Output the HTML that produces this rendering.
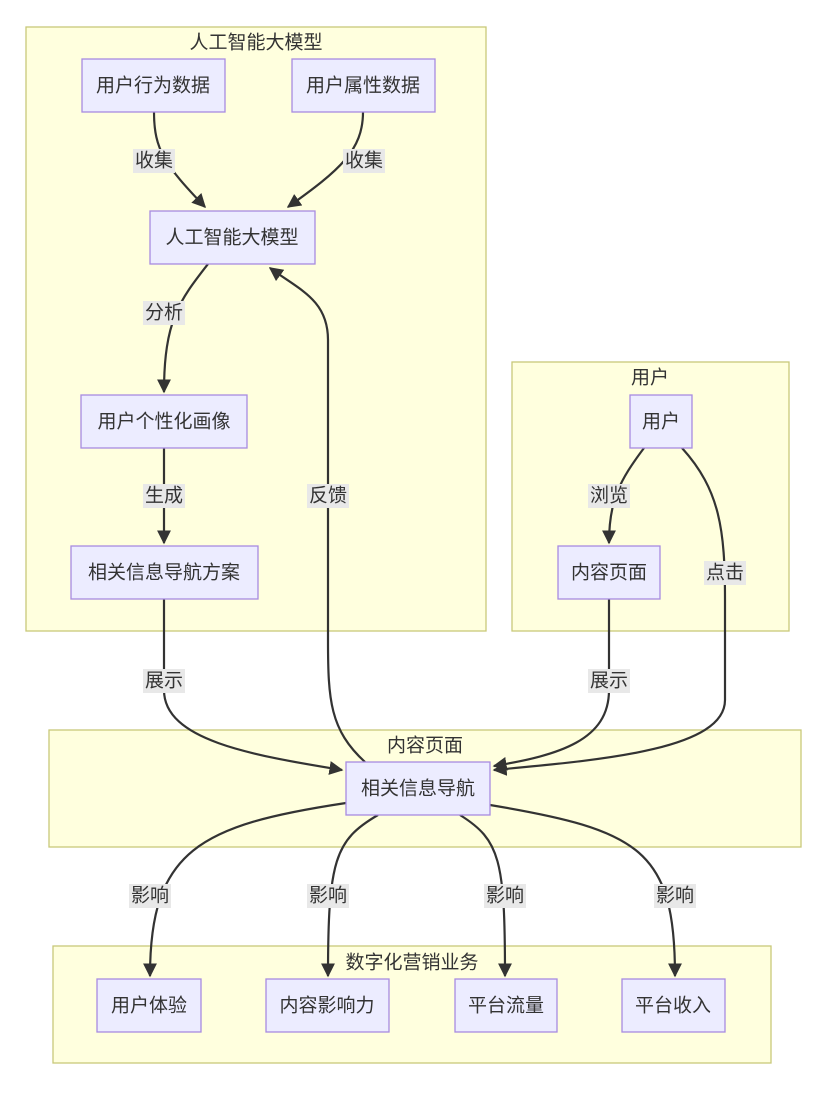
<!DOCTYPE html>
<html><head><meta charset="utf-8"><style>
html,body{margin:0;padding:0;background:#fff;}
svg{display:block;font-family:"Liberation Sans","Noto Sans CJK SC",sans-serif;}
.cl{fill:#ffffde;stroke:#c8c87a;stroke-width:1.3;}
.nd{fill:#ececff;stroke:#a78be0;stroke-width:1.3;}
.t{font-size:19px;fill:#333;text-anchor:middle;dominant-baseline:central;}
.e{fill:none;stroke:#333;stroke-width:2.2;}
.lb{fill:#e8e8e8;}
</style></head><body>
<svg width="829" height="1093" viewBox="0 0 829 1093">
<defs>
<marker id="b" viewBox="0 0 10 10" refX="9" refY="5" markerWidth="14" markerHeight="14" orient="auto" markerUnits="userSpaceOnUse"><path d="M0,0L10,5L0,10z" fill="#333"/></marker></defs>
<rect class="cl" x="26" y="27" width="460" height="604"/>
<text class="t" x="256" y="43">人工智能大模型</text>
<rect class="cl" x="512" y="362" width="277" height="269"/>
<text class="t" x="650" y="378">用户</text>
<rect class="cl" x="49" y="730" width="752" height="117"/>
<text class="t" x="425" y="746">内容页面</text>
<rect class="cl" x="53" y="946" width="718" height="117"/>
<text class="t" x="412" y="963">数字化营销业务</text>

<g marker-end="url(#b)">
<path class="e" d="M154,112 C154,150 165,165 205,207"/>
<path class="e" d="M363,112 C363,150 340,170 288,207"/>
<path class="e" d="M208,264 C180,300 164,320 164,392"/>
<path class="e" d="M164,448 L164,543"/>
<path class="e" d="M164,599 L164,690 C164,740 250,755 342,770"/>
<path class="e" d="M365,762 C330,730 328,700 328,640 L328,340 C328,300 300,290 270,268"/>
<path class="e" d="M644,448 C620,480 609,500 609,543"/>
<path class="e" d="M682,448 C720,490 725,530 725,600 L725,700 C725,750 600,760 494,770"/>
<path class="e" d="M609,599 L609,690 C609,740 560,755 494,766"/>
<path class="e" d="M346,803 C200,825 150,850 150,976"/>
<path class="e" d="M378,815 C335,840 328,860 328,976"/>
<path class="e" d="M460,815 C500,840 505,860 505,976"/>
<path class="e" d="M490,805 C640,830 675,850 675,976"/>
</g>

<g>
<rect class="lb" x="133" y="149" width="42" height="24"/><text class="t" x="154" y="161">收集</text>
<rect class="lb" x="343" y="149" width="42" height="24"/><text class="t" x="364" y="161">收集</text>
<rect class="lb" x="143" y="301" width="42" height="24"/><text class="t" x="164" y="313">分析</text>
<rect class="lb" x="143" y="484" width="42" height="24"/><text class="t" x="164" y="496">生成</text>
<rect class="lb" x="307" y="484" width="42" height="24"/><text class="t" x="328" y="496">反馈</text>
<rect class="lb" x="588" y="484" width="42" height="24"/><text class="t" x="609" y="496">浏览</text>
<rect class="lb" x="704" y="561" width="42" height="24"/><text class="t" x="725" y="573">点击</text>
<rect class="lb" x="143" y="669" width="42" height="24"/><text class="t" x="164" y="681">展示</text>
<rect class="lb" x="588" y="669" width="42" height="24"/><text class="t" x="609" y="681">展示</text>
<rect class="lb" x="129" y="884" width="42" height="24"/><text class="t" x="150" y="896">影响</text>
<rect class="lb" x="307" y="884" width="42" height="24"/><text class="t" x="328" y="896">影响</text>
<rect class="lb" x="484" y="884" width="42" height="24"/><text class="t" x="505" y="896">影响</text>
<rect class="lb" x="654" y="884" width="42" height="24"/><text class="t" x="675" y="896">影响</text>
</g>

<rect class="nd" x="82" y="59" width="143" height="53"/><text class="t" x="153" y="86">用户行为数据</text>
<rect class="nd" x="292" y="59" width="143" height="53"/><text class="t" x="363" y="86">用户属性数据</text>
<rect class="nd" x="150" y="211" width="165" height="53"/><text class="t" x="232" y="238">人工智能大模型</text>
<rect class="nd" x="81" y="395" width="166" height="53"/><text class="t" x="164" y="422">用户个性化画像</text>
<rect class="nd" x="71" y="546" width="187" height="53"/><text class="t" x="164" y="573">相关信息导航方案</text>
<rect class="nd" x="630" y="395" width="62" height="53"/><text class="t" x="661" y="422">用户</text>
<rect class="nd" x="558" y="546" width="102" height="53"/><text class="t" x="609" y="573">内容页面</text>
<rect class="nd" x="346" y="762" width="144" height="53"/><text class="t" x="418" y="789">相关信息导航</text>
<rect class="nd" x="97" y="979" width="104" height="53"/><text class="t" x="149" y="1006">用户体验</text>
<rect class="nd" x="266" y="979" width="123" height="53"/><text class="t" x="327" y="1006">内容影响力</text>
<rect class="nd" x="455" y="979" width="102" height="53"/><text class="t" x="506" y="1006">平台流量</text>
<rect class="nd" x="622" y="979" width="103" height="53"/><text class="t" x="673" y="1006">平台收入</text>
</svg>
</body></html>
